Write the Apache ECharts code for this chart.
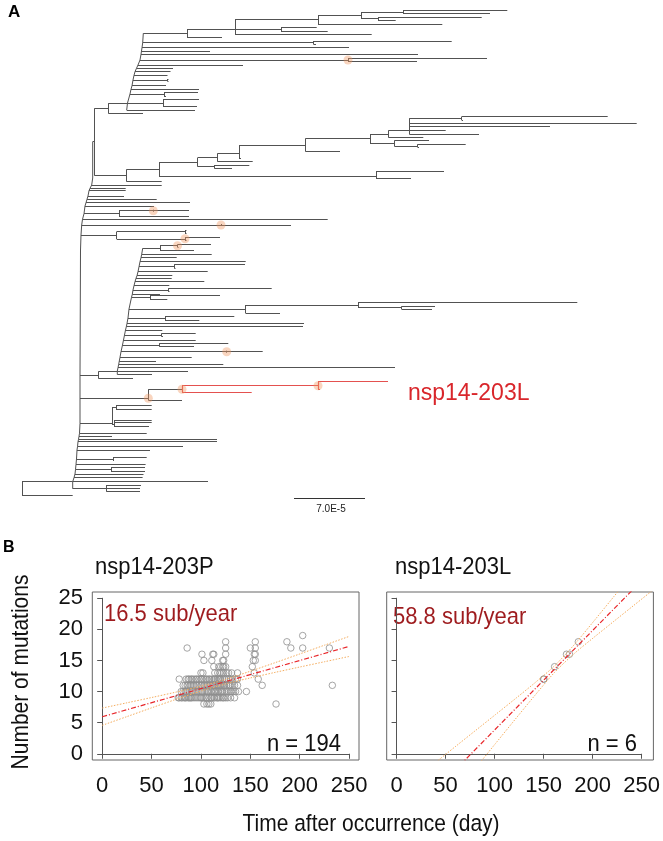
<!DOCTYPE html>
<html>
<head>
<meta charset="utf-8">
<script src="https://cdn.jsdelivr.net/npm/echarts@6/dist/echarts.min.js"></script>
<style>
html,body{margin:0;padding:0;background:#fff;}
#chart{width:663px;height:841px;}
</style>
</head>
<body>
<div id="chart"></div>
<script>
// ===================== PANEL A : tree data =====================
// horizontal branches: [row, fromDepth, toDepth]
const treeBranches = [
  [10.3,403,507.3],[13.7,403,490],[17,378,481.7],[20.3,378,395.7],[12,361,403],[18.7,361,378],
  [15.3,318,361],[24,318,442.3],[27.3,281,316.7],[31,281,327.7],[19,235,318],[29.3,235,281],[34.3,235,371.7],
  [29.3,187,235],[37.7,187,222],[41,313.5,451.7],[44.3,313.5,316],[58.3,348,487],[61.7,348,417],
  [79,167.5,168.5],[81.3,167.5,168.5],[92.3,164,198],[96,164,166],[99.3,163,199],[106.7,163,197],
  [33.3,143.3,187],[42.7,142.7,313.5],[47.7,142,349],[51,141.5,210],[54.3,141,418],[60,140,348],[65,138,243],
  [68.3,136.5,173],[71.7,135,170.5],[75.3,134,167.5],[80,133,167.5],[85.7,132,166],[89.3,131,199],[94,130,164],
  [103,127.5,163],[110,126.7,195],
  [103.3,108.3,127.5],[113.3,108.3,143],[108.3,94.5,108.3],[175.7,94.5,126.7],[141.7,92.7,94.5],
  [169.3,126.7,159],[181.7,126.7,161.7],[162.3,159,197.7],[176,159,376],[171.7,376,444],[178.3,376,411],
  [157.7,197.7,217.7],[166.7,197.7,214.3],[165,214.3,249.3],[168.3,214.3,232],[153.3,217.7,239],[161.7,217.7,252.7],
  [145,239,305.7],[158.3,239,241],[138.3,305.7,370],[151.7,305.7,340],[134.3,370,388.3],[143.3,370,394.3],
  [130.7,388.3,409.3],[137.3,388.3,423.3],[118.3,409.3,461.7],[123.3,409.3,636.7],[126.7,409.3,550],
  [130.7,409.3,445.7],[134,409.3,479],[116.7,461.7,607.7],[120,461.7,463],[140.7,394.3,429],[146,394.3,417.7],
  [144.3,417.7,465.7],[147.3,417.7,419],
  [185,91.7,161.7],[188.3,90,125.7],[190.7,89,125.7],[196,88,124],[199.3,87,156.7],[202.7,86,190],[206,85,154],
  [213.7,84,119],[219.3,82.5,327.7],[225,81.7,291],[235,81,116.7],[210.7,119,189],[216.7,119,189],
  [231.7,116.7,185],[239,116.7,185],[230.3,185,186.5],[233,185,186.5],[237.3,185,220],[240.3,185,186.5],
  [248.3,142.7,160],[245.7,160,177.5],[250.7,160,194],[244.5,177.5,211],[247,177.5,178.5],
  [254.3,141.7,211.7],[257.7,141,176.7],[261.7,140,245.7],[266.7,139,174.3],[264.3,174.3,245],[268.3,174.3,175.5],
  [271.7,138,207.7],[275.7,137,172.3],[278.3,136,171.7],[281.7,135,204.3],[285.7,134,169.3],
  [290,133,168.3],[288.3,168.3,271.7],[291.7,168.3,169.5],[294.3,132.3,160],
  [297.3,131.5,150],[295.7,150,220],[299,150,167.3],
  [309,129,245.7],[305,245.7,358],[313.3,245.7,280],[302.3,358,577.3],[307.3,358,401.7],[306.3,401.7,435],[309.3,401.7,432],
  [318,128,165],[316,165,234.3],[320,165,199.3],[323.3,127,304],[326,126.5,303],[330,125.5,162.3],
  [335,124.5,161.7],[333.3,161.7,195.7],[336.7,161.7,163],[340,123.5,195.7],
  [345,122.5,159.3],[343.3,159.3,228.3],[346.7,159.3,194],
  [351.7,121,262.7],[357.3,120,191.7],[361,119.3,156],[364.3,118.7,223.3],[367.7,118,395],[371,117.3,188],[374.5,117.3,152],
  [371.7,98.3,117.3],[378.3,98.3,133],[375,80,98.3],
  [398.3,80,148.3],[389.3,148.3,182],[400,148.3,182],
  [423.3,80,112],[407.3,112,116],[424.3,112,114],[405.3,116,151.7],[409.3,116,151.7],[420,114,151.7],[422.7,114,151.7],[426.3,114,149],
  [433.3,79.5,146.7],[436.3,79,112],[439.3,78.5,217],[441.7,78,217],[446.7,77.5,183],[450,77,150],
  [459,76.5,113],[457.3,113,146.7],[460.7,113,114],[464.3,76,145.6],
  [469.5,75.5,111],[467.3,111,145],[471.7,111,145],[474,75,143.5],[477.7,74,142.6],[481.7,72.7,208],
  [488.7,72.7,106.5],[485,106.5,141],[488.3,106.5,140],[491.7,106.5,140],
  [481.7,22,72.7],[495,22,72.7]
];
// vertical joins at nodes: [depth, fromRow, toRow]
const treeNodes = [
  [403,10.3,13.7],[378,17,20.3],[361,12,18.7],[318,15.3,24],[281,27.3,31],[235,19,34.3],[187,29.3,37.7],
  [313.5,41,44.3],[348,58.3,61.7],[167.5,79,81.3],[164,92.3,96],[163,99.3,106.7],[108.3,103.3,113.3],[94.5,108.3,175.7],
  [126.7,169.3,181.7],[159,162.3,176],[376,171.7,178.3],[197.7,157.7,166.7],[214.3,165,168.3],[217.7,153.3,161.7],
  [239,145,158.3],[305.7,138.3,151.7],[370,134.3,143.3],[388.3,130.7,137.3],[409.3,118.3,134],[461.7,116.7,120],
  [394.3,140.7,146],[417.7,144.3,147.3],
  [119,210.7,216.7],[153.3,209.7,211.7],[221,224,226],[116.7,231.7,239],[185,230.3,233],[185,237.3,240.3],
  [160,245.7,250.7],[177.5,244.5,247],[174.3,264.3,268.3],[168.3,288.3,291.7],[150,295.7,299],[245.7,305,313.3],
  [358,302.3,307.3],[401.7,306.3,309.3],[165,316,320],[161.7,333.3,336.7],[159.3,343.3,346.7],[226.7,350.7,352.7],
  [98.3,371.7,378.3],[148.3,389.3,400],
  [112,407.3,424.3],[116,405.3,409.3],[114,420,426.3],[113,457.3,460.7],[111,467.3,471.7],[106.5,485,491.7],[22,481.7,495]
];
// ladder spines: [depth,row] points
const spineUpper = [[143.3,33.3],[142.7,42.7],[142,47.7],[141.5,51],[141,54.3],[140,60],[138,65],[136.5,68.3],[135,71.7],[134,75.3],[133,80],[132,85.7],[131,89.3],[130,94],[127.5,103],[126.7,110]];
const spineLower = [[142.7,248.3],[141.7,254.3],[141,257.7],[140,261.7],[139,266.7],[138,271.7],[137,275.7],[136,278.3],[135,281.7],[134,285.7],[133,290],[132.3,294.3],[131.5,297.3],[129,309],[128,318],[127,323.3],[126.5,326],[125.5,330],[124.5,335],[123.5,340],[122.5,345],[121,351.7],[120,357.3],[119.3,361],[118.7,364.3],[118,367.7],[117.3,371],[117.3,374.5]];
const spineTrunk = [[92.7,141.7],[92.7,178],[91.7,185],[90,188.3],[89,190.7],[88,196],[87,199.3],[86,202.7],[85,206],[84,213.7],[82.5,219.3],[81.7,225],[81,235],[80.5,250],[80,375],[80,423.3],[79.5,433.3],[79,436.3],[78.5,439.3],[78,441.7],[77.5,446.7],[77,450],[76.5,459],[76,464.3],[75.5,469.5],[75,474],[74,477.7],[72.7,481.7],[72.7,488.7]];
// nsp14-203L lineage (red)
const redBranches = [[385.7,182,318],[392.3,182,251.7],[381.7,318,388],[389,318,320]];
const redNodes = [[182,385.7,392.3],[318,381.7,389]];
// highlighted (orange) nodes [depth,row]
const markedNodes = [[348,60],[153.3,210.7],[221,225],[185,238.8],[177.5,245.7],[226.7,351.7],[148.3,398.3],[182,389.3],[318,385.7]];
const scaleBar = {from:294, to:365, row:498.3, label:'7.0E-5'};

// ===================== PANEL B : scatter data =====================
const xTicks = [0,50,100,150,200,250];
const yTicks = [0,5,10,15,20,25];
const leftLevels = [8,9,10,11,12,13,14,15,16,17,18,19];
const leftDays = [
  [103,106,108,110,176],
  [77,78,80,81,83,84,85,87,88,89,90,91,93,95,97,99,100,101,103,105,106,108,110,111,113,114,116,117,118,120,122,123,125,127,130,134],
  [80,82,84,85,86,88,90,91,92,94,96,98,100,101,102,104,106,107,108,110,111,113,114,115,117,118,120,121,122,124,126,128,130,131,133,135,138,146],
  [82,84,86,87,89,90,92,93,95,96,98,100,101,103,104,106,107,109,110,112,113,114,116,117,119,120,121,123,124,126,128,129,130,132,134,137,162,233,118],
  [78,85,87,88,90,91,93,95,96,98,100,101,103,105,106,108,109,111,113,114,115,117,118,120,122,124,126,128,130,132,135,137,158,119],
  [100,102,114,117,119,121,123,126,128,131,137,154],
  [113,118,120,122,123,125,152],
  [103,111,122,123,153,155],
  [101,112,113,125,154,155],
  [86,125,150,155,191,203,230],
  [125,155,187],
  [203]
];
const leftFitX = [0,250], leftFitY = [5.95,17.25];
const leftBandX = [0,25,50,75,100,125,150,175,200,225,250];
const leftBandUp = [7.34,8.19,9.04,9.92,10.86,11.97,13.27,14.64,16.04,17.45,18.86];
const leftBandLo = [4.57,5.97,7.38,8.76,10.08,11.23,12.19,13.08,13.94,14.79,15.64];

const rightDays = [149,149,160,172,175,184];
const rightMut = [12,12,14,16,16,18];
const rightFitX = [0,260], rightFitY = [-12.16,29.73];
const rightBandX = [40,60,80,100,120,140,160,180,200,220,240,260];
const rightBandUp = [-1.32,1.22,3.75,6.28,8.82,11.40,14.15,17.56,21.38,25.27,29.17,33.06];
const rightBandLo = [-10.12,-6.2,-2.29,1.62,5.52,9.38,13.09,16.12,18.74,21.29,23.83,26.37];

// ===================== build =====================
const FONT = "'Liberation Sans', Arial, Helvetica, sans-serif";
const hs = b => ({coords:[[b[1],b[0]],[b[2],b[0]]]});
const vs = n => ({coords:[[n[0],n[1]],[n[0],n[2]]]});
const zip = (xs,ys) => xs.map((x,i)=>[x,ys[i]]);
const leftPts = [];
leftLevels.forEach((lv,i)=>leftDays[i].forEach(d=>leftPts.push([d,lv])));

const treeColor = '#525252';
const redColor = '#e4514f';
const fitStyle = {color:'#e8262a', width:1.2, type:[5,2,1,2]};
const bandStyle = {color:'#f5ad5f', width:1, type:[1.5,1.5]};

const boxL = {left:92.3, top:592, width:266.7, height:168};
const boxR = {left:386.7, top:592, width:266.7, height:168};
const pxPerDay = 266.7/270, pxPerMut = 168/27;
function axisGrid(b){ return {left:b.left+10*pxPerDay, top:b.top+pxPerMut, width:250*pxPerDay, height:25*pxPerMut, show:false}; }

const hiddenX = (gi,min,max)=>({type:'value',gridIndex:gi,min,max,show:false});
const hiddenY = (gi,min,max,inv)=>({type:'value',gridIndex:gi,min,max,show:false,inverse:!!inv});
function visX(gi){return {type:'value',gridIndex:gi,min:xTicks[0],max:xTicks[xTicks.length-1],interval:xTicks[1]-xTicks[0],offset:9.7,
  axisLine:{show:true,lineStyle:{color:'#555',width:1}},axisTick:{show:true,length:5,lineStyle:{color:'#555'}},
  axisLabel:{show:true,fontSize:22,color:'#111',fontFamily:FONT,margin:11},splitLine:{show:false}};}
function visY(gi,labels){return {type:'value',gridIndex:gi,min:yTicks[0],max:yTicks[yTicks.length-1],interval:yTicks[1]-yTicks[0],offset:13.2,
  axisLine:{show:true,lineStyle:{color:'#555',width:1}},axisTick:{show:true,length:5,lineStyle:{color:'#555'}},
  axisLabel:{show:labels,fontSize:22,color:'#111',fontFamily:FONT,margin:6},splitLine:{show:false}};}

const series = [
  {type:'lines',coordinateSystem:'cartesian2d',xAxisIndex:0,yAxisIndex:0,silent:true,
   data:treeBranches.map(hs).concat(treeNodes.map(vs)),lineStyle:{color:treeColor,width:1,opacity:1}},
  {type:'lines',coordinateSystem:'cartesian2d',xAxisIndex:0,yAxisIndex:0,silent:true,polyline:true,
   data:[{coords:spineUpper},{coords:spineLower},{coords:spineTrunk}],lineStyle:{color:treeColor,width:1,opacity:1}},
  {type:'lines',coordinateSystem:'cartesian2d',xAxisIndex:0,yAxisIndex:0,silent:true,
   data:redBranches.map(hs).concat(redNodes.map(vs)),lineStyle:{color:redColor,width:1.2,opacity:1}},
  {type:'scatter',xAxisIndex:0,yAxisIndex:0,silent:true,data:markedNodes,symbolSize:9,
   itemStyle:{color:'rgba(240,150,95,0.5)'}},
  {type:'lines',coordinateSystem:'cartesian2d',xAxisIndex:0,yAxisIndex:0,silent:true,
   data:[{coords:[[scaleBar.from,scaleBar.row],[scaleBar.to,scaleBar.row]]}],lineStyle:{color:'#333',width:1,opacity:1}},
  // left panel
  {type:'scatter',xAxisIndex:1,yAxisIndex:1,data:leftPts,symbol:'circle',symbolSize:6.5,
   itemStyle:{color:'rgba(0,0,0,0)',borderColor:'#8e8e8e',borderWidth:1}},
  {type:'line',xAxisIndex:1,yAxisIndex:1,data:zip(leftBandX,leftBandUp),smooth:0.3,showSymbol:false,lineStyle:bandStyle},
  {type:'line',xAxisIndex:1,yAxisIndex:1,data:zip(leftBandX,leftBandLo),smooth:0.3,showSymbol:false,lineStyle:bandStyle},
  {type:'line',xAxisIndex:1,yAxisIndex:1,data:zip(leftFitX,leftFitY),showSymbol:false,lineStyle:fitStyle},
  // right panel
  {type:'scatter',xAxisIndex:3,yAxisIndex:3,data:zip(rightDays,rightMut),symbol:'circle',symbolSize:6.5,
   itemStyle:{color:'rgba(0,0,0,0)',borderColor:'#8e8e8e',borderWidth:1}},
  {type:'line',xAxisIndex:3,yAxisIndex:3,data:zip(rightBandX,rightBandUp),smooth:0.3,showSymbol:false,lineStyle:bandStyle,clip:true},
  {type:'line',xAxisIndex:3,yAxisIndex:3,data:zip(rightBandX,rightBandLo),smooth:0.3,showSymbol:false,lineStyle:bandStyle,clip:true},
  {type:'line',xAxisIndex:3,yAxisIndex:3,data:zip(rightFitX,rightFitY),showSymbol:false,lineStyle:fitStyle,clip:true}
];

// text helper; tall = slight vertical stretch to mimic the taller original lettering
const txt = (text,x,y,o,tall)=>Object.assign({type:'text',x,y,silent:true,scaleY:tall||1,
  style:Object.assign({text,fill:'#111',font:'21px '+FONT,align:'left',verticalAlign:'middle'},o||{})});

const option = {
  animation:false,
  backgroundColor:'#fff',
  grid:[
    {left:0,top:0,width:663,height:510,show:false},
    Object.assign({show:true,borderColor:'#666',borderWidth:1,backgroundColor:'transparent'},boxL),
    axisGrid(boxL),
    Object.assign({show:true,borderColor:'#666',borderWidth:1,backgroundColor:'transparent'},boxR),
    axisGrid(boxR)
  ],
  xAxis:[hiddenX(0,0,663),hiddenX(1,-10,260),visX(2),hiddenX(3,-10,260),visX(4)],
  yAxis:[hiddenY(0,0,510,true),hiddenY(1,-1,26),visY(2,true),hiddenY(3,-1,26),visY(4,false)],
  series,
  graphic:[
    txt('A',8,12,{font:'bold 17px '+FONT,fill:'#000'}),
    txt('B',3,548,{font:'bold 16px '+FONT,fill:'#000'}),
    txt('nsp14-203L',408,393.5,{font:'23px '+FONT,fill:'#d9262b'},1.08),
    txt(scaleBar.label,331,509,{font:'10px '+FONT,fill:'#222',align:'center'}),
    txt('nsp14-203P',95,567,{font:'22px '+FONT},1.12),
    txt('nsp14-203L',395,567,{font:'22px '+FONT},1.12),
    txt('16.5 sub/year',104,614,{font:'22px '+FONT,fill:'#9e1b1e'},1.12),
    txt('58.8 sub/year',393,617,{font:'22px '+FONT,fill:'#9e1b1e'},1.12),
    txt('n = 194',341,744,{font:'22px '+FONT,align:'right'},1.12),
    txt('n = 6',637,744,{font:'22px '+FONT,align:'right'},1.12),
    {type:'text',x:22,y:672,rotation:Math.PI/2,scaleX:1,scaleY:1.12,silent:true,
     style:{text:'Number of mutations',fill:'#111',font:'21px '+FONT,align:'center',verticalAlign:'middle'}},
    txt('Time after occurrence (day)',371,825,{font:'21px '+FONT,align:'center'},1.12)
  ]
};
const chart = echarts.init(document.getElementById('chart'),null,{renderer:'canvas'});
chart.setOption(option);
</script>
</body>
</html>
